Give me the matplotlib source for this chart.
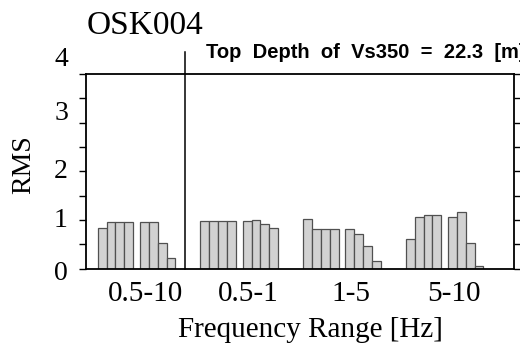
import matplotlib
matplotlib.use('Agg')
import matplotlib.pyplot as plt
import matplotlib.transforms as mtransforms
import numpy as np

# frequency bands, each band has two sets of four bars
bands = ['0.5-10', '0.5-1', '1-5', '5-10']
set_a = [
    [0.83, 0.96, 0.96, 0.96],
    [0.98, 0.98, 0.98, 0.98],
    [1.01, 0.81, 0.81, 0.81],
    [0.61, 1.06, 1.09, 1.09],
]
set_b = [
    [0.96, 0.96, 0.52, 0.21],
    [0.98, 1.00, 0.91, 0.83],
    [0.81, 0.71, 0.47, 0.15],
    [1.06, 1.16, 0.52, 0.05],
]
station = 'OSK004'
depth_note = 'Top  Depth  of  Vs350  =  22.3  [m]'
y_ticks = [0, 1, 2, 3, 4]

serif = 'Liberation Serif'
bar_w = 0.086
set_a_left = -0.381
set_b_left = 0.03

fig = plt.figure(figsize=(5.2, 3.49), dpi=100, facecolor='white')
ax = fig.add_axes([86 / 520, 1 - 268.5 / 349, 428 / 520, 194.5 / 349])

for i in range(len(bands)):
    for left, vals in ((set_a_left, set_a[i]), (set_b_left, set_b[i])):
        xs = i + left + bar_w * (np.arange(len(vals)) + 0.5)
        ax.bar(xs, vals, width=bar_w, color='#d2d2d2', edgecolor='#505050',
               linewidth=0.9)

ax.set_xlim(-0.496, 3.672)
ax.set_ylim(0, 4)

# divider between the broad band and the narrow bands
ax.axvline(0.468, ymin=0, ymax=1.113, color='black', lw=1.1, clip_on=False)

for s in ax.spines.values():
    s.set_linewidth(1.3)

ax.set_xticks(range(len(bands)))
ax.set_xticklabels(bands, fontfamily=serif, fontsize=21)
ax.tick_params(axis='x', length=0, pad=9)
shift = mtransforms.ScaledTranslation(0.085, 0, fig.dpi_scale_trans)
for lab in ax.get_xticklabels():
    lab.set_transform(lab.get_transform() + shift)

ax.set_yticks(y_ticks)
ax.set_yticks(np.arange(0.5, 4, 1.0), minor=True)
ax.set_yticklabels([str(v) for v in y_ticks], fontfamily=serif, fontsize=20)
ax.tick_params(axis='y', which='both', direction='out', length=5, width=1.0,
               left=True, right=True, pad=8)
# labels sit a little higher than their ticks in the original
lift = [-2, 2, 3, 12, 18]
for lab, d in zip(ax.get_yticklabels(), lift):
    lab.set_transform(lab.get_transform() + mtransforms.ScaledTranslation(0, d / 100, fig.dpi_scale_trans))

ax.set_ylabel('RMS', fontfamily=serif, fontsize=20)
ax.yaxis.set_label_coords((24 - 86) / 428, (268.5 - 165) / 194.5)
ax.set_xlabel('Frequency Range [Hz]', fontfamily=serif, fontsize=21)
ax.xaxis.set_label_coords((310 - 86) / 428, (268.5 - 330) / 194.5)
ax.xaxis.label.set_va('center')
ax.yaxis.label.set_va('center')

fig.text(87 / 520, 1 - 26 / 349, station, fontfamily=serif, fontsize=24,
         ha='left', va='center')
ax.text((206 - 86) / 428, (268.5 - 53) / 194.5, depth_note, transform=ax.transAxes,
        fontfamily='Liberation Sans', fontweight='bold', fontsize=14.5,
        ha='left', va='center', clip_on=False)

fig.savefig('out.png', dpi=100, facecolor='white')
